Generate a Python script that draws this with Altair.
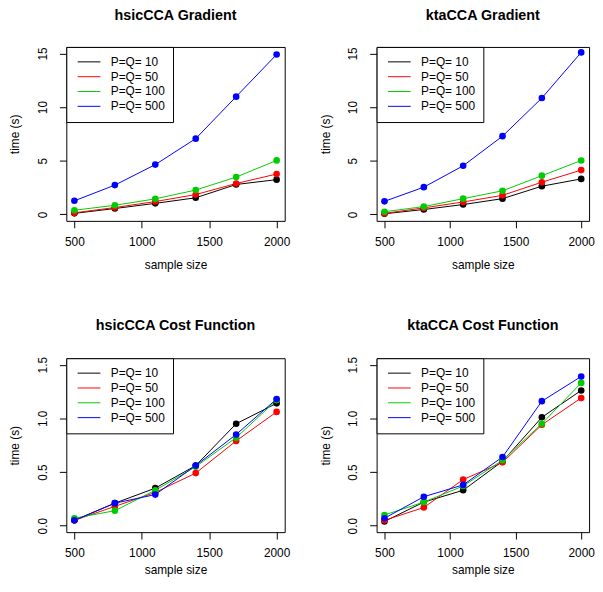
import altair as alt
import pandas as pd

sizes = [500, 800, 1100, 1400, 1700, 2000]
series = ["P=Q= 10", "P=Q= 50", "P=Q= 100", "P=Q= 500"]
colors = ["#000000", "#FF0000", "#00CD00", "#0000FF"]

# hsicCCA Gradient
hsic_grad_10 = [0.10, 0.55, 1.03, 1.55, 2.79, 3.24]
hsic_grad_50 = [0.15, 0.64, 1.20, 1.85, 2.88, 3.76]
hsic_grad_100 = [0.39, 0.85, 1.45, 2.27, 3.48, 5.03]
hsic_grad_500 = [1.27, 2.73, 4.64, 7.06, 10.97, 14.90]

# ktaCCA Gradient
kta_grad_10 = [0.06, 0.46, 0.92, 1.47, 2.63, 3.31]
kta_grad_50 = [0.10, 0.61, 1.16, 1.78, 3.00, 4.13]
kta_grad_100 = [0.25, 0.73, 1.47, 2.20, 3.61, 5.02]
kta_grad_500 = [1.22, 2.54, 4.53, 7.29, 10.84, 15.09]

# hsicCCA Cost Function
hsic_cost_10 = [0.05, 0.21, 0.35, 0.56, 0.95, 1.14]
hsic_cost_50 = [0.05, 0.18, 0.31, 0.49, 0.79, 1.06]
hsic_cost_100 = [0.07, 0.14, 0.33, 0.55, 0.82, 1.17]
hsic_cost_500 = [0.05, 0.21, 0.29, 0.56, 0.85, 1.18]

# ktaCCA Cost Function
kta_cost_10 = [0.04, 0.22, 0.33, 0.60, 1.01, 1.26]
kta_cost_50 = [0.05, 0.17, 0.43, 0.59, 0.94, 1.19]
kta_cost_100 = [0.10, 0.22, 0.37, 0.61, 0.95, 1.33]
kta_cost_500 = [0.07, 0.27, 0.38, 0.64, 1.16, 1.39]

FONT = "Liberation Sans"


def panel(title, vals, ydomain, yticks, yfmt, width, xtitle_pad):
    rows = []
    for s, v in zip(series, vals):
        for x, y in zip(sizes, v):
            rows.append({"n": x, "t": y, "s": s})
    df = pd.DataFrame(rows)
    x = alt.X("n:Q",
              scale=alt.Scale(domain=[440, 2060], nice=False, zero=False),
              axis=alt.Axis(values=[500, 1000, 1500, 2000], format="d", title="sample size",
                            labelPadding=9, titlePadding=xtitle_pad))
    y = alt.Y("t:Q",
              scale=alt.Scale(domain=ydomain, nice=False, zero=False),
              axis=alt.Axis(values=yticks, format=yfmt, title="time (s)",
                            labelAngle=270, labelAlign="center", labelBaseline="bottom",
                            labelPadding=10, titlePadding=15))
    color = alt.Color("s:N", sort=series,
                      scale=alt.Scale(domain=series, range=colors),
                      legend=alt.Legend(title=None, orient="top-left", offset=0,
                                        padding=8, clipHeight=14.2, rowPadding=0,
                                        symbolType="stroke", symbolSize=529,
                                        symbolStrokeWidth=1, symbolOffset=3,
                                        labelOffset=10, labelFontSize=12, labelFont=FONT,
                                        labelColor="black", fillColor="white",
                                        strokeColor="black", labelLimit=0))
    ch = alt.Chart(df).mark_line(
        strokeWidth=1,
        point=alt.OverlayMarkDef(filled=True, size=45, opacity=1),
    ).encode(x=x, y=y, color=color, order=alt.Order("n:Q"))
    return ch.properties(width=width, height=176, title=alt.Title(title))


p1 = panel("hsicCCA Gradient", [hsic_grad_10, hsic_grad_50, hsic_grad_100, hsic_grad_500],
           [-0.6, 15.6], [0, 5, 10, 15], "d", 221, 12)
p2 = panel("ktaCCA Gradient", [kta_grad_10, kta_grad_50, kta_grad_100, kta_grad_500],
           [-0.6, 15.6], [0, 5, 10, 15], "d", 215, 12)
p3 = panel("hsicCCA Cost Function", [hsic_cost_10, hsic_cost_50, hsic_cost_100, hsic_cost_500],
           [-0.06, 1.56], [0, 0.5, 1.0, 1.5], ".1f", 221, 6)
p4 = panel("ktaCCA Cost Function", [kta_cost_10, kta_cost_50, kta_cost_100, kta_cost_500],
           [-0.06, 1.56], [0, 0.5, 1.0, 1.5], ".1f", 215, 6)

row1 = alt.hconcat(p1, p2, spacing=28).resolve_scale(color="independent").resolve_legend(color="independent")
row2 = alt.hconcat(p3, p4, spacing=28).resolve_scale(color="independent").resolve_legend(color="independent")

chart = alt.vconcat(row1, row2, spacing=47).resolve_scale(color="independent").resolve_legend(
    color="independent"
).properties(
    padding={"left": 0, "top": -4, "right": 0, "bottom": 0}, background="white"
).configure_view(
    stroke="black", strokeWidth=1
).configure_axis(
    grid=False, domain=False, tickColor="black", tickSize=7, tickWidth=1,
    labelFont=FONT, labelFontSize=12, labelColor="black",
    titleFont=FONT, titleFontSize=12, titleFontWeight="normal", titleColor="black",
).configure_title(
    font=FONT, fontSize=14.5, fontWeight="bold", color="black", anchor="middle", offset=23
)

chart.save("out.html", embed_options={"renderer": "svg", "actions": False})
